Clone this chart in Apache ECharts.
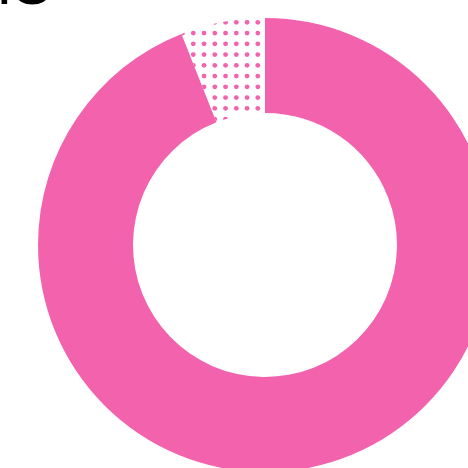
<!DOCTYPE html>
<html>
<head>
<meta charset="utf-8">
<style>
  html, body { margin: 0; padding: 0; background: #fff; }
  #chart { width: 468px; height: 468px; }
</style>
<script src="https://cdn.jsdelivr.net/npm/echarts@6/dist/echarts.min.js"></script>
</head>
<body>
<div id="chart"></div>
<script>
// Chart content
const titleChars = ['I', 'O'];
const categories = ['Filled', 'Remaining'];
const values = [94, 6];

const PINK = '#F262AD';

// Dotted fill for the remaining share: a 43px tile holding a 4x4 grid of dots
function dotTile() {
  const size = 43, step = 10.75, r = 2.4;
  const c = document.createElement('canvas');
  c.width = size; c.height = size;
  const ctx = c.getContext('2d');
  ctx.fillStyle = PINK;
  const x0 = -0.2, y0 = 0.8;
  for (let i = 0; i < 4; i++) {
    for (let j = 0; j < 4; j++) {
      for (const ox of [-size, 0, size]) {
        for (const oy of [-size, 0, size]) {
          ctx.beginPath();
          ctx.arc(x0 + i * step + ox, y0 + j * step + oy, r, 0, Math.PI * 2);
          ctx.fill();
        }
      }
    }
  }
  return c;
}

// Heading glyphs, set individually so their spacing can be tightened
const glyphX = [-3.9, 9.1];
const heading = titleChars.map((ch, i) => ({
  type: 'text',
  x: glyphX[i],
  y: -43,
  silent: true,
  style: {
    text: ch,
    font: '60px "Liberation Sans"',
    fill: '#000',
    verticalAlign: 'top'
  }
}));

const chart = echarts.init(document.getElementById('chart'), null, { renderer: 'canvas' });
chart.setOption({
  animation: false,
  graphic: heading,
  series: [{
    type: 'pie',
    center: [265, 245],
    radius: [132, 227],
    startAngle: 90,
    clockwise: true,
    silent: true,
    label: { show: false },
    labelLine: { show: false },
    data: categories.map((name, i) => ({
      name,
      value: values[i],
      itemStyle: i === 0
        ? { color: PINK }
        : { color: { image: dotTile(), repeat: 'repeat' } }
    }))
  }]
});
</script>
</body>
</html>
